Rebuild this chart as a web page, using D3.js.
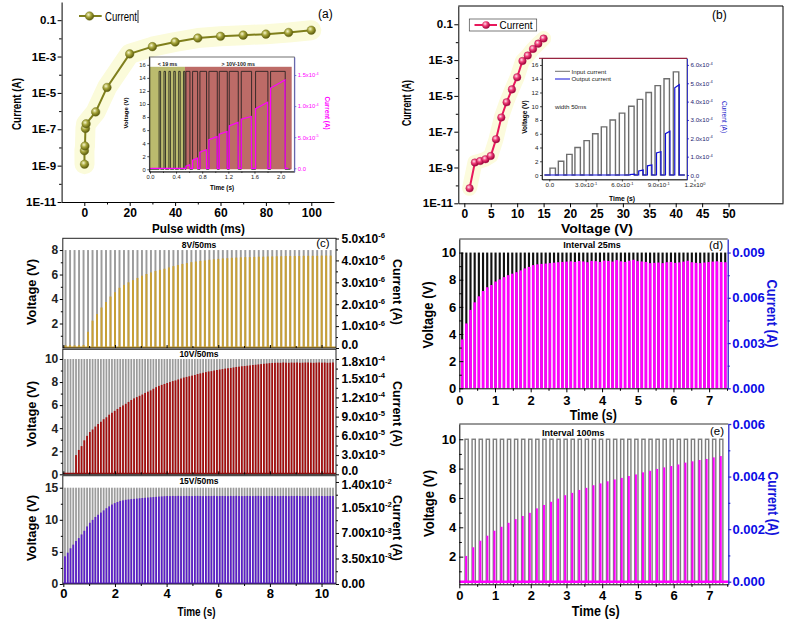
<!DOCTYPE html>
<html><head><meta charset="utf-8">
<script src="https://cdn.jsdelivr.net/npm/d3@7/dist/d3.min.js"></script>
<style>body{margin:0;background:#fff}svg{display:block}</style>
</head><body>
<svg id="chart" width="786" height="626"></svg>
<script>
// ================= DATA =================
// (a) current vs pulse width
const aPulseWidth = [0.1, 0.05, 0.3, 0.5, 0.8, 5, 10, 20, 30, 40, 50, 60, 70, 80, 90, 100];
const aCurrent = [1.2e-9, 6.6e-9, 1.2e-8, 1.1e-7, 2.0e-7, 9.0e-7, 2.0e-5, 1.4e-3, 3.5e-3, 6.3e-3, 1.04e-2, 1.3e-2, 1.5e-2, 1.7e-2, 2.1e-2, 2.8e-2];
const logTicks = [1e-11, 1e-9, 1e-7, 1e-5, 1e-3, 1e-1];
const logTickLabels = ['1E-11', '1E-9', '1E-7', '1E-5', '1E-3', '0.1'];
const logMinor = [1e-10, 1e-8, 1e-6, 1e-4, 1e-2];
const aXTicks = [0, 20, 40, 60, 80, 100];
const aXMinor = [10, 30, 50, 70, 90];
// (a) inset
const aInsetRegionStart = [0, 0.536];
const aInsetRegionEnd = [0.536, 2.17];
const aInsetRegionTop = 15.7;
const aInsetRegionLabels = ['< 19 ms', '> 10V-100 ms'];
const aPulseVoltage = 15;
const aFastPulseStart = [0.14, 0.215, 0.29, 0.365, 0.44, 0.515];
const aFastPulseEnd = [0.163, 0.238, 0.313, 0.388, 0.463, 0.535];
const aSlowPulseStart = [0.551, 0.653, 0.765, 0.903, 1.061, 1.214, 1.398, 1.617, 1.847];
const aSlowPulseEnd = [0.612, 0.730, 0.867, 1.031, 1.184, 1.352, 1.556, 1.806, 2.071];
const aInsetCurrentStart = [0.35e-5, 1.3e-5, 2.6e-5, 4.6e-5, 5.5e-5, 6.8e-5, 7.9e-5, 9.6e-5, 1.29e-4];
const aInsetCurrentEnd = [0.57e-5, 1.62e-5, 2.98e-5, 5.08e-5, 5.92e-5, 7.38e-5, 8.33e-5, 1.064e-4, 1.42e-4];
const aInsetVTicks = [0, 2, 4, 6, 8, 10, 12, 14, 16];
const aInsetTTicks = [0, 0.4, 0.8, 1.2, 1.6, 2.0];
const aInsetTMinor = [0.2, 0.6, 1.0, 1.4, 1.8];
const aInsetITicks = [0, 5e-5, 1e-4, 1.5e-4];
const aInsetILabels = ['0.0', '5.0x10^-5', '1.0x10^-4', '1.5x10^-4'];

// (b) current vs voltage
const bVoltage = [1, 2, 3, 4, 5, 6, 7, 8, 9, 10, 11, 12, 13, 14, 15];
const bCurrent = [6.9e-11, 1.9e-9, 2.3e-9, 2.9e-9, 4.4e-9, 3.8e-8, 6.2e-7, 4.4e-6, 2.3e-5, 1.1e-4, 8.9e-4, 1.8e-3, 4.2e-3, 8.3e-3, 1.6e-2];
const bXTicks = [0, 5, 10, 15, 20, 25, 30, 35, 40, 45, 50];
// (b) inset
const bPulseStart = [0.006, 0.075, 0.144, 0.212, 0.287, 0.358, 0.43, 0.502, 0.579, 0.656, 0.727, 0.799, 0.874, 0.948, 1.025];
const bPulseWidth = 0.045;
const bInputVoltage = [1, 2, 3, 4, 5, 6, 7, 8, 9, 10, 11, 12, 13, 14, 15];
const bOutputStart = [0, 0, 0, 0, 0, 0, 0, 0, 0, 0.03e-4, 0.22e-4, 0.5e-4, 1.2e-4, 2.25e-4, 4.75e-4];
const bOutputEnd = [0, 0, 0, 0, 0, 0, 0, 0, 0, 0.05e-4, 0.27e-4, 0.55e-4, 1.27e-4, 2.38e-4, 4.92e-4];
const bInsetVTicks = [0, 2, 4, 6, 8, 10, 12, 14, 16];
const bInsetTTicks = [0, 0.3, 0.6, 0.9, 1.2];
const bInsetTLabels = ['0.0', '3.0x10^-1', '6.0x10^-1', '9.0x10^-1', '1.2x10^0'];
const bInsetITicks = [0, 1e-4, 2e-4, 3e-4, 4e-4, 5e-4, 6e-4];
const bInsetILabels = ['0.0', '1.0x10^-4', '2.0x10^-4', '3.0x10^-4', '4.0x10^-4', '5.0x10^-4', '6.0x10^-4'];

// (c) pulse trains
const cLabels = ['8V/50ms', '10V/50ms', '15V/50ms'];
const cVoltage = [8, 10, 15];
const cPulseStart0 = [0.05, 0.03, 0.03];
const cPulsePeriod = [0.174, 0.107, 0.107];
const cCurrent8V = [ // x1e-6 A
  0.12,0.13,0.12,0.13,0.14, 0.74,1.25,1.55,1.85,2.1, 2.35,2.55,2.75,2.88,3.0, 3.1,3.2,3.3,3.38,3.45,
  3.52,3.57,3.62,3.68,3.74, 3.79,3.84,3.88,3.92,3.95, 3.98,4.0,4.03,4.05,4.07, 4.09,4.1,4.12,4.13,4.14,
  4.15,4.15,4.16,4.17,4.17, 4.18,4.18,4.19,4.19,4.2, 4.2,4.2,4.2,4.21,4.21, 4.21,4.21,4.22,4.22,4.22];
const cCurrent10V = [ // x1e-4 A
  0.005,0.005,0.005,0.005,
  0.30,0.38,0.44,0.53,0.60, 0.66,0.70,0.745,0.785,0.82, 0.86,0.89,0.93,0.96,0.99, 1.02,1.05,1.075,1.10,1.13,
  1.16,1.185,1.205,1.225,1.245, 1.27,1.29,1.31,1.335,1.36, 1.38,1.395,1.41,1.425,1.44, 1.455,1.465,1.48,1.495,1.51,
  1.52,1.53,1.54,1.55,1.565, 1.575,1.585,1.595,1.605,1.61, 1.62,1.628,1.635,1.642,1.65, 1.655,1.66,1.668,1.675,1.68,
  1.686,1.69,1.695,1.70,1.706, 1.71,1.715,1.72,1.725,1.73, 1.735,1.738,1.74,
  1.742,1.74,1.745,1.742,1.74,1.744,1.742,1.745,1.74,1.742,1.744,1.745,1.742,1.74,1.743,1.745,1.742,1.744,1.74,1.742,1.745];
const cCurrent15V = [ // x1e-2 A
  0.38,0.43,0.49,0.54,0.59, 0.63,0.68,0.73,0.79,0.84, 0.88,0.92,0.95,0.98,1.01, 1.04,1.065,1.09,1.11,1.125,
  1.14,1.148,1.155,1.16,1.165, 1.168,1.172,1.176,1.18,1.183, 1.186,1.19,1.193,1.196,1.2, 1.202,1.205,
  1.207,1.206,1.208,1.207,1.209,1.206,1.207,1.208,1.207,1.206,1.208,1.209,1.207,1.206,1.207,1.208,1.207,1.209,1.206,1.207,
  1.208,1.207,1.206,1.208,1.207,1.209,1.207,1.206,1.207,1.208,1.207,1.206,1.208,1.209,1.207,1.206,1.207,1.208,1.207,1.209,
  1.206,1.207,1.208,1.207,1.206,1.208,1.207,1.209,1.207,1.206,1.207,1.208,1.207,1.206,1.208,1.209,1.207,1.206,1.207,1.208,1.207];
const cVTicks = [[2,4,6,8],[0,2,4,6,8,10],[0,5,10,15]];
const cVMinor = [[1,3,5,7],[1,3,5,7,9],[2.5,7.5,12.5]];
const cITicks = [[0,1e-6,2e-6,3e-6,4e-6,5e-6],[0,3e-5,6e-5,9e-5,1.2e-4,1.5e-4,1.8e-4],[0,3.5e-3,7e-3,1.05e-2,1.4e-2]];
const cILabels = [['0.0','1.0x10^-6','2.0x10^-6','3.0x10^-6','4.0x10^-6','5.0x10^-6'],
  ['0.0','3.0x10^-5','6.0x10^-5','9.0x10^-5','1.2x10^-4','1.5x10^-4','1.8x10^-4'],
  ['0.00','3.50x10^-3','7.00x10^-3','1.05x10^-2','1.40x10^-2']];
const cIMinor = [[0.5e-6,1.5e-6,2.5e-6,3.5e-6,4.5e-6],[1.5e-5,4.5e-5,7.5e-5,1.05e-4,1.35e-4,1.65e-4],[1.75e-3,5.25e-3,8.75e-3,1.225e-2]];
const cTTicks = [0, 2, 4, 6, 8, 10];
const cTMinor = [1, 3, 5, 7, 9];

// (d) interval 25 ms
const dLabel = 'Interval 25ms';
const dVoltage = 10;
const dPulseStart0 = 0.05, dPulsePeriod = 0.117;
const dCurrent = [ // x1e-3 A
  3.24,4.3,5.2,5.7,6.1,6.45,6.7,6.85,7.08,7.22,7.37,7.5,7.6,7.7,7.82,7.95,8.05,8.17,8.22,8.25,8.27,
  8.30,8.33,8.36,8.38,8.40,8.42,8.38,8.44,8.41,8.36, 8.45,8.43,8.38,8.47,8.44,8.40,8.50,8.42,8.38,8.46,
  8.52,8.43,8.41,8.38,8.30,8.32,8.34,8.30,8.36,8.38, 8.32,8.35,8.40,8.46,8.36,8.32,8.30,8.34,8.37,8.40, 8.42,8.38,8.36];
const dVTicks = [0, 2, 4, 6, 8, 10];
const dVMinor = [1, 3, 5, 7, 9];
const dITicks = [0, 0.003, 0.006, 0.009];
const dILabels = ['0.000', '0.003', '0.006', '0.009'];
const dIMinor = [0.0015, 0.0045, 0.0075];
// (e) interval 100 ms
const eLabel = 'Interval 100ms';
const eVoltage = 10;
const ePulseStart0 = 0.16, ePulsePeriod = 0.198;
const eCurrent = [ // x1e-3 A
  0.98,1.31,1.56,1.75,1.94,2.09,2.24,2.38,2.50,2.62,2.79,2.92,3.04,3.16,3.29,3.38,3.49,3.57,3.67,3.74,
  3.82,3.89,3.95,4.02,4.08,4.16,4.22,4.29,4.35,4.40,4.46,4.53,4.58,4.63,4.67,4.73,4.78];
const eVTicks = [2, 4, 6, 8, 10];
const eVMinor = [1, 3, 5, 7, 9];
const eITicks = [0, 0.002, 0.004, 0.006];
const eILabels = ['0.000', '0.002', '0.004', '0.006'];
const eIMinor = [0.001, 0.003, 0.005];
const deTTicks = [0, 1, 2, 3, 4, 5, 6, 7];
const deTMinor = [0.5, 1.5, 2.5, 3.5, 4.5, 5.5, 6.5, 7.5];

// ================= HELPERS =================
const FONT = '"Liberation Sans", Arial, Helvetica, sans-serif';
const svg = d3.select('#chart');
const defs = svg.append('defs');
function grad(id, c0, c1, c2) {
  const g = defs.append('radialGradient').attr('id', id).attr('cx', '38%').attr('cy', '35%').attr('r', '65%');
  g.append('stop').attr('offset', '0%').attr('stop-color', c0);
  g.append('stop').attr('offset', '45%').attr('stop-color', c1);
  g.append('stop').attr('offset', '100%').attr('stop-color', c2);
}
grad('gOlive', '#f7f7cf', '#a6a53a', '#5a5a0c');
grad('gPink', '#ffe3ec', '#ee3c76', '#9a0038');
let clipN = 0;
function clipRect(x, y, w, h) {
  const id = 'clip' + (clipN++);
  defs.append('clipPath').attr('id', id).append('rect').attr('x', x).attr('y', y).attr('width', w).attr('height', h);
  return `url(#${id})`;
}
function txt(parent, s, x, y, o = {}) {
  const t = parent.append('text').attr('x', x).attr('y', y).attr('font-family', FONT)
    .attr('font-size', o.fs || 12).attr('font-weight', o.bold ? 'bold' : 'normal')
    .attr('fill', o.color || '#000').attr('text-anchor', o.anchor || 'middle').text(s);
  if (o.dy) t.attr('dy', o.dy);
  if (o.rot) t.attr('transform', `rotate(${o.rot},${x},${y})`);
  if (o.len) t.attr('textLength', o.len).attr('lengthAdjust', 'spacingAndGlyphs');
  return t;
}
function addAxis(parent, orient, scale, o) {
  const mk = orient === 'left' ? d3.axisLeft : orient === 'right' ? d3.axisRight : d3.axisBottom;
  const g = parent.append('g').attr('transform', `translate(${o.x || 0},${o.y || 0})`);
  const col = o.lineColor || '#000';
  const sw = o.sw ?? 1;
  if (o.minor) {
    const gm = g.append('g').call(mk(scale).tickValues(o.minor).tickSize(o.minorLen ?? 2).tickFormat(() => '').tickSizeOuter(0));
    gm.select('.domain').remove();
    gm.selectAll('line').attr('stroke', col).attr('stroke-width', sw);
  }
  const vals = o.values;
  const a = mk(scale).tickValues(vals).tickSize(o.len ?? 4).tickPadding(o.pad ?? 2).tickSizeOuter(0)
    .tickFormat(o.noLabels ? () => '' : o.labels ? (d => o.labels[vals.indexOf(d)]) : (o.fmt || (d => d)));
  const ga = g.append('g').call(a);
  ga.attr('font-family', null).attr('font-size', null);
  if (o.noDomain) ga.select('.domain').remove();
  else ga.select('.domain').attr('stroke', col).attr('stroke-width', sw);
  ga.selectAll('.tick line').attr('stroke', col).attr('stroke-width', sw);
  const fs = o.fs || 12;
  ga.selectAll('.tick text').attr('font-family', FONT).attr('font-size', fs)
    .attr('font-weight', o.bold === false ? 'normal' : 'bold').attr('fill', o.color || '#000')
    .each(function (d) {
      const t = d3.select(this), s = t.text();
      if (o.nudge && o.nudge[vals.indexOf(d)]) t.attr('transform', `translate(0,${o.nudge[vals.indexOf(d)]})`);
      if (s.includes('^')) {
        const [m, e] = s.split('^');
        t.text(null);
        t.append('tspan').text(m);
        t.append('tspan').attr('dy', -fs * 0.4).attr('font-size', fs * 0.64).text(e);
      }
    });
  return g;
}
const line = d3.line();

// ================= PANEL (a) =================
const gA = svg.append('g');
const aX = d3.scaleLinear().domain([-10, 110]).range([61.6, 334]);
const aY = d3.scaleLog().domain([1e-11, 1]).range([202, 2]);
const aPts = aPulseWidth.map((w, i) => [aX(w), aY(aCurrent[i])]);
gA.append('path').attr('d', line(aPts)).attr('fill', 'none').attr('stroke', '#fbfbda').attr('stroke-width', 20)
  .attr('stroke-linejoin', 'round').attr('stroke-linecap', 'round');
gA.append('path').attr('d', line(aPts)).attr('fill', 'none').attr('stroke', '#7f7f1c').attr('stroke-width', 2);
gA.selectAll('circle.m').data(aPts).join('circle').attr('class', 'm').attr('cx', d => d[0]).attr('cy', d => d[1])
  .attr('r', 4.3).attr('fill', 'url(#gOlive)').attr('stroke', '#6b6b14').attr('stroke-width', 0.4);
// legend
gA.append('line').attr('x1', 79).attr('x2', 101.7).attr('y1', 16).attr('y2', 16).attr('stroke', '#7f7f1c').attr('stroke-width', 2);
gA.append('circle').attr('cx', 89.5).attr('cy', 16).attr('r', 4.3).attr('fill', 'url(#gOlive)').attr('stroke', '#6b6b14').attr('stroke-width', 0.4);
txt(gA, 'Current', 105, 20.5, {fs: 12, anchor: 'start', len: 32});
gA.append('line').attr('x1', 138).attr('x2', 138).attr('y1', 10).attr('y2', 23).attr('stroke', '#000').attr('stroke-width', 0.8);
txt(gA, '(a)', 318, 17.5, {fs: 12, anchor: 'start'});

// inset (a)
const iaL = 149.3, iaR = 294.3, iaT = 57, iaB = 171.7;
const iaX = d3.scaleLinear().domain([-0.01, 2.21]).range([iaL, iaR]);
const iaY = d3.scaleLinear().domain([-0.37, 17.2]).range([iaB, iaT]);
const iaYR = d3.scaleLinear().domain([-0.055e-4, 1.79e-4]).range([iaB, iaT]);
const gIA = svg.append('g');
gIA.append('rect').attr('x', iaL).attr('y', iaT).attr('width', iaR - iaL).attr('height', iaB - iaT).attr('fill', '#fff');
const regionColors = ['#bbbb6e', '#bd6b67'];
aInsetRegionStart.forEach((s, i) => {
  gIA.append('rect').attr('x', iaX(s)).attr('y', iaY(aInsetRegionTop)).attr('width', iaX(aInsetRegionEnd[i]) - iaX(s))
    .attr('height', iaY(0) - iaY(aInsetRegionTop)).attr('fill', regionColors[i]);
  txt(gIA, aInsetRegionLabels[i], (iaX(s) + iaX(aInsetRegionEnd[i])) / 2, 65.8, {fs: 5.3, bold: true, color: '#222'});
});
// voltage trace
let vp = `M${iaX(0)},${iaY(0)}`;
const allStart = aFastPulseStart.concat(aSlowPulseStart), allEnd = aFastPulseEnd.concat(aSlowPulseEnd);
allStart.forEach((s, i) => { vp += `H${iaX(s)}V${iaY(aPulseVoltage)}H${iaX(allEnd[i])}V${iaY(0)}`; });
vp += `H${iaX(2.15)}`;
gIA.append('path').attr('d', vp).attr('fill', 'none').attr('stroke', '#1a1a1a').attr('stroke-width', 0.8);
// current trace
let cp = `M${iaX(0)},${iaYR(0)}`;
aSlowPulseStart.forEach((s, i) => {
  cp += `H${iaX(s)}V${iaYR(aInsetCurrentStart[i])}L${iaX(aSlowPulseEnd[i] - 0.004)},${iaYR(aInsetCurrentEnd[i])}L${iaX(aSlowPulseEnd[i])},${iaYR(0)}`;
});
cp += `H${iaX(2.12)}`;
gIA.append('path').attr('d', cp).attr('fill', 'none').attr('stroke', '#ff00ff').attr('stroke-width', 1.2);
gIA.append('rect').attr('x', iaL).attr('y', iaT).attr('width', iaR - iaL).attr('height', iaB - iaT).attr('fill', 'none').attr('stroke', '#333').attr('stroke-width', 0.7);
addAxis(gIA, 'left', iaY, {x: iaL, values: aInsetVTicks, len: 2, pad: 1.5, fs: 5.8, bold: false, color: '#222', sw: 0.7});
addAxis(gIA, 'bottom', iaX, {y: iaB, values: aInsetTTicks, fmt: d3.format('.1f'), minor: aInsetTMinor, len: 2, minorLen: 1.2, pad: 1.5, fs: 5.8, bold: false, color: '#222', sw: 0.7});
addAxis(gIA, 'right', iaYR, {x: iaR, values: aInsetITicks, labels: aInsetILabels, len: 2, pad: 1.5, fs: 5.8, bold: false, color: '#ff00ff', lineColor: '#5a5ad0', sw: 0.8});
txt(gIA, 'Voltage (V)', 126, 113, {fs: 6, bold: true, rot: -90, dy: '0.35em'});
txt(gIA, 'Time (s)', 222, 190, {fs: 6.3, bold: true});
txt(gIA, 'Current (A)', 327, 113, {fs: 6.3, bold: true, rot: 90, dy: '0.35em', color: '#ff00ff'});

// axes (a)
addAxis(gA, 'left', aY, {x: 61.6, values: logTicks, labels: logTickLabels, minor: logMinor, len: 4, minorLen: 2.5, pad: 1.5, fs: 11.5});
addAxis(gA, 'bottom', aX, {y: 202, values: aXTicks, minor: aXMinor, len: 4, minorLen: 2.5, pad: 2.5, fs: 12});
txt(gA, 'Current (A)', 16, 104, {fs: 13, bold: true, rot: -90, dy: '0.35em', len: 52});
txt(gA, 'Pulse width (ms)', 198.5, 232.5, {fs: 13, bold: true, len: 93});

// ================= PANEL (b) =================
const gB = svg.append('g');
const bX = d3.scaleLinear().domain([-1.14, 60.3]).range([458.3, 783]);
const bY = d3.scaleLog().domain([1e-11, 1.05]).range([203.3, 6]);
const bPts = bVoltage.map((v, i) => [bX(v), bY(bCurrent[i])]);
gB.append('path').attr('d', line(bPts)).attr('fill', 'none').attr('stroke', '#fcfbdd').attr('stroke-width', 15)
  .attr('stroke-linejoin', 'round').attr('stroke-linecap', 'round');
gB.append('path').attr('d', line(bPts)).attr('fill', 'none').attr('stroke', '#e8185c').attr('stroke-width', 2);
gB.selectAll('circle.m').data(bPts).join('circle').attr('class', 'm').attr('cx', d => d[0]).attr('cy', d => d[1])
  .attr('r', 3.8).attr('fill', 'url(#gPink)').attr('stroke', '#b0104a').attr('stroke-width', 0.4);
// legend
gB.append('rect').attr('x', 469.3).attr('y', 19).attr('width', 67.4).attr('height', 12).attr('fill', '#fff').attr('stroke', '#444').attr('stroke-width', 0.7);
gB.append('line').attr('x1', 474.5).attr('x2', 497).attr('y1', 25).attr('y2', 25).attr('stroke', '#e8185c').attr('stroke-width', 2);
gB.append('circle').attr('cx', 486).attr('cy', 25).attr('r', 3.8).attr('fill', 'url(#gPink)');
txt(gB, 'Current', 499.5, 29, {fs: 11.5, anchor: 'start', len: 33});
txt(gB, '(b)', 712, 19, {fs: 12, anchor: 'start'});

// inset (b)
const ibL = 542, ibR = 687, ibT = 58.3, ibB = 179.5;
const ibX = d3.scaleLinear().domain([-0.06, 1.138]).range([ibL, ibR]);
const ibY = d3.scaleLinear().domain([-0.65, 16.97]).range([ibB, ibT]);
const ibYR = d3.scaleLinear().domain([-0.244e-4, 6.36e-4]).range([ibB, ibT]);
const gIB = svg.append('g');
gIB.append('rect').attr('x', ibL).attr('y', ibT).attr('width', ibR - ibL).attr('height', ibB - ibT).attr('fill', '#fff');
let ip = `M${ibX(-0.04)},${ibY(0)}`;
bPulseStart.forEach((s, i) => { ip += `H${ibX(s)}V${ibY(bInputVoltage[i])}H${ibX(s + bPulseWidth)}V${ibY(0)}`; });
ip += `H${ibX(1.12)}`;
gIB.append('path').attr('d', ip).attr('fill', 'none').attr('stroke', '#6e6e6e').attr('stroke-width', 1.4);
let op = `M${ibX(-0.04)},${ibYR(0)}`;
bPulseStart.forEach((s, i) => {
  if (bOutputEnd[i] > 0) op += `H${ibX(s + 0.012)}V${ibYR(bOutputStart[i])}L${ibX(s + bPulseWidth + 0.004)},${ibYR(bOutputEnd[i])}V${ibYR(0)}`;
});
op += `H${ibX(1.12)}`;
gIB.append('path').attr('d', op).attr('fill', 'none').attr('stroke', '#1010d8').attr('stroke-width', 1.2);
gIB.append('rect').attr('x', ibL).attr('y', ibT).attr('width', ibR - ibL).attr('height', ibB - ibT).attr('fill', 'none').attr('stroke', '#333').attr('stroke-width', 0.7);
gIB.append('line').attr('x1', 539).attr('x2', ibR).attr('y1', ibT).attr('y2', ibT).attr('stroke', '#a01032').attr('stroke-width', 1);
addAxis(gIB, 'left', ibY, {x: ibL, values: bInsetVTicks, len: 2, pad: 1.5, fs: 6.2, bold: false, color: '#222', sw: 0.7});
addAxis(gIB, 'bottom', ibX, {y: ibB, values: bInsetTTicks, labels: bInsetTLabels, len: 2, pad: 1.5, fs: 6.2, bold: false, color: '#222', sw: 0.7});
addAxis(gIB, 'right', ibYR, {x: ibR, values: bInsetITicks, labels: bInsetILabels, len: 2, pad: 1.5, fs: 6.2, bold: false, color: '#1a1a70', lineColor: '#1515c8', sw: 0.8});
gIB.append('line').attr('x1', 555).attr('x2', 570).attr('y1', 71.3).attr('y2', 71.3).attr('stroke', '#6e6e6e').attr('stroke-width', 1);
gIB.append('line').attr('x1', 555).attr('x2', 570).attr('y1', 79).attr('y2', 79).attr('stroke', '#1010d8').attr('stroke-width', 1);
txt(gIB, 'Input current', 571.5, 73.5, {fs: 6.2, anchor: 'start', color: '#222'});
txt(gIB, 'Output current', 571.5, 81.2, {fs: 6.2, anchor: 'start', color: '#222'});
txt(gIB, 'width 50ms', 555, 109, {fs: 6.2, anchor: 'start', color: '#222'});
txt(gIB, 'Voltage (V)', 525, 117, {fs: 6.5, bold: true, rot: -90, dy: '0.35em'});
txt(gIB, 'Time (s)', 622, 200.5, {fs: 6.8, bold: true});
txt(gIB, 'Current (A)', 724, 117, {fs: 6.5, rot: 90, dy: '0.35em', color: '#1515c8'});

addAxis(gB, 'left', bY, {x: 458.3, values: logTicks, labels: logTickLabels, minor: logMinor, len: 4, minorLen: 2.5, pad: 1.5, fs: 11.5});
addAxis(gB, 'bottom', bX, {y: 203.3, values: bXTicks, len: 4, pad: 2, fs: 12});
gB.append('line').attr('x1', 458.3).attr('x2', 783).attr('y1', 6).attr('y2', 6).attr('stroke', '#000');
gB.append('line').attr('x1', 783).attr('x2', 783).attr('y1', 6).attr('y2', 203.3).attr('stroke', '#000');
txt(gB, 'Current (A)', 406, 103, {fs: 13, bold: true, rot: -90, dy: '0.35em', len: 46});
txt(gB, 'Voltage (V)', 597, 233, {fs: 13, bold: true, len: 72});

// ================= PANEL (c) =================
const gC = svg.append('g');
const cX = d3.scaleLinear().domain([-0.02, 10.56]).range([62.8, 336]);
const cSubs = [
  {top: 238.3, bot: 348, vTop: 8.96, iTop: 5.01e-6, cur: cCurrent8V, unit: 1e-6, color: '#c9a033', w: 0.075, labelY: 248, titleY: 292},
  {top: 349.3, bot: 474.3, vTop: 10.84, iTop: 1.951e-4, cur: cCurrent10V, unit: 1e-4, color: '#a30d0d', w: 0.068, labelY: 357, titleY: 414},
  {top: 475.7, bot: 584, vTop: 16.87, iTop: 1.486e-2, cur: cCurrent15V, unit: 1e-2, color: '#5a1ec8', w: 0.068, labelY: 483.8, titleY: 528}
];
cSubs.forEach((s, k) => {
  const yV = d3.scaleLinear().domain([0, s.vTop]).range([s.bot, s.top]);
  const yI = d3.scaleLinear().domain([0, s.iTop]).range([s.bot, s.top]);
  const g = gC.append('g').attr('clip-path', clipRect(62.8, s.top, 336 - 62.8, s.bot - s.top));
  const times = s.cur.map((_, i) => cPulseStart0[k] + i * cPulsePeriod[k]);
  g.selectAll('rect.v').data(times).join('rect').attr('class', 'v')
    .attr('x', t => cX(t)).attr('width', cX(s.w) - cX(0)).attr('y', yV(cVoltage[k])).attr('height', yV(0) - yV(cVoltage[k]))
    .attr('fill', '#9c9c9c');
  g.selectAll('rect.i').data(s.cur).join('rect').attr('class', 'i')
    .attr('x', (d, i) => cX(times[i])).attr('width', cX(s.w) - cX(0)).attr('y', d => yI(d * s.unit)).attr('height', d => yI(0) - yI(d * s.unit))
    .attr('fill', s.color);
  g.append('line').attr('x1', 62.8).attr('x2', 336).attr('y1', yI(0) - 0.8).attr('y2', yI(0) - 0.8).attr('stroke', s.color).attr('stroke-width', 1.6);
  gC.append('rect').attr('x', 62.8).attr('y', s.top).attr('width', 336 - 62.8).attr('height', s.bot - s.top).attr('fill', 'none').attr('stroke', '#222').attr('stroke-width', 1);
  const nudge = cITicks[k].map((v, i) => (i === 0 && k < 2 ? -3.5 : (i === cITicks[k].length - 1 && k > 0 ? 2.5 : 0)));
  addAxis(gC, 'left', yV, {x: 62.8, values: cVTicks[k], minor: cVMinor[k], len: 3, minorLen: 2, pad: 1.5, fs: 12, color: '#222', noDomain: true});
  addAxis(gC, 'right', yI, {x: 336, values: cITicks[k], labels: cILabels[k], minor: cIMinor[k], len: 3, minorLen: 2, pad: 2.5, fs: 12, noDomain: true, nudge});
  addAxis(gC, 'bottom', cX, {y: s.bot, values: cTTicks, minor: cTMinor, len: k === 2 ? 3 : -3, minorLen: k === 2 ? 2 : -2, pad: 1.5, fs: 13, noDomain: true, noLabels: k !== 2});
  txt(gC, cLabels[k], 199, s.labelY, {fs: 8.5, bold: true});
  txt(gC, 'Voltage (V)', 31.5, s.titleY, {fs: 13, bold: true, rot: -90, dy: '0.35em', len: 66});
  txt(gC, 'Current (A)', 398, s.titleY, {fs: 13, bold: true, rot: 90, dy: '0.35em', len: 66});
});
txt(gC, '(c)', 323, 246.5, {fs: 11.5});
txt(gC, 'Time (s)', 196.5, 616, {fs: 13.5, bold: true, len: 38});

// ================= PANEL (d) =================
const gD = svg.append('g');
const dL = 459.3, dR = 727.7, dT = 239, dB = 388.3;
const dX = d3.scaleLinear().domain([0, 7.52]).range([dL, dR]);
const dY = d3.scaleLinear().domain([0, 11]).range([dB, dT]);
const dYR = d3.scaleLinear().domain([0, 0.0099]).range([dB, dT]);
const gDd = gD.append('g').attr('clip-path', clipRect(dL, dT, dR - dL, dB - dT));
const dTimes = dCurrent.map((_, i) => dPulseStart0 + i * dPulsePeriod);
gDd.selectAll('rect.v').data(dTimes).join('rect').attr('class', 'v').attr('x', t => dX(t)).attr('width', dX(0.06) - dX(0))
  .attr('y', dY(dVoltage)).attr('height', dY(0) - dY(dVoltage)).attr('fill', '#111');
gDd.selectAll('rect.i').data(dCurrent).join('rect').attr('class', 'i').attr('x', (d, i) => dX(dTimes[i] - 0.006)).attr('width', dX(0.076) - dX(0))
  .attr('y', d => dYR(d * 1e-3)).attr('height', d => dYR(0) - dYR(d * 1e-3)).attr('fill', '#ff00ff');
gD.append('line').attr('x1', dL).attr('x2', dR).attr('y1', dT).attr('y2', dT).attr('stroke', '#333');
addAxis(gD, 'left', dY, {x: dL, values: dVTicks, minor: dVMinor, len: -4, minorLen: -2.5, pad: 3, fs: 13});
addAxis(gD, 'bottom', dX, {y: dB, values: deTTicks, minor: deTMinor, len: 4, minorLen: 2.5, pad: 3, fs: 13});
addAxis(gD, 'right', dYR, {x: dR, values: dITicks, labels: dILabels, minor: dIMinor, len: 3, minorLen: 2, pad: 1.5, fs: 13, color: '#0b0be6', lineColor: '#2a2ad0', sw: 1.3});
txt(gD, dLabel, 592, 248.3, {fs: 9, bold: true});
txt(gD, '(d)', 716, 249, {fs: 11.5});
txt(gD, 'Voltage (V)', 428.3, 315, {fs: 14, bold: true, rot: -90, dy: '0.35em', len: 67});
txt(gD, 'Current (A)', 771.7, 313.5, {fs: 14, bold: true, rot: 90, dy: '0.35em', len: 68, color: '#1414dc'});
txt(gD, 'Time (s)', 593.3, 420, {fs: 14, bold: true, len: 47});

// ================= PANEL (e) =================
const gE = svg.append('g');
const eL = 459.3, eR = 728.3, eT = 424, eB = 584.3;
const eX = d3.scaleLinear().domain([0, 7.53]).range([eL, eR]);
const eY = d3.scaleLinear().domain([0.116, 11.04]).range([eB, eT]);
const eYR = d3.scaleLinear().domain([-0.0000989, 0.006]).range([eB, eT]);
const gEd = gE.append('g').attr('clip-path', clipRect(eL, eT, eR - eL, eB - eT));
const eTimes = eCurrent.map((_, i) => ePulseStart0 + i * ePulsePeriod);
gEd.selectAll('rect.v').data(eTimes).join('rect').attr('class', 'v').attr('x', t => eX(t)).attr('width', eX(0.09) - eX(0))
  .attr('y', eY(eVoltage)).attr('height', eY(0) - eY(eVoltage)).attr('fill', 'none').attr('stroke', '#7d7d7d').attr('stroke-width', 1.4);
gEd.append('line').attr('x1', eL).attr('x2', eR).attr('y1', eYR(0)).attr('y2', eYR(0)).attr('stroke', '#ff00ff').attr('stroke-width', 2.4);
gEd.selectAll('rect.i').data(eCurrent).join('rect').attr('class', 'i').attr('x', (d, i) => eX(eTimes[i] + 0.004)).attr('width', eX(0.055) - eX(0))
  .attr('y', d => eYR(d * 1e-3)).attr('height', d => eYR(0) - eYR(d * 1e-3)).attr('fill', '#ff00ff');
gE.append('line').attr('x1', eL).attr('x2', eR).attr('y1', eT).attr('y2', eT).attr('stroke', '#333');
addAxis(gE, 'left', eY, {x: eL, values: eVTicks, minor: eVMinor, len: -4, minorLen: -2.5, pad: 3, fs: 13});
addAxis(gE, 'bottom', eX, {y: eB, values: deTTicks, minor: deTMinor, len: 4, minorLen: 2.5, pad: 2.5, fs: 13});
addAxis(gE, 'right', eYR, {x: eR, values: eITicks, labels: eILabels, minor: eIMinor, len: 3, minorLen: 2, pad: 1.2, fs: 13, color: '#0b0be6', lineColor: '#2a2ad0', sw: 1.3});
txt(gE, eLabel, 573.3, 436, {fs: 9, bold: true});
txt(gE, '(e)', 717, 434.5, {fs: 11.5});
txt(gE, 'Voltage (V)', 429.3, 503.5, {fs: 14, bold: true, rot: -90, dy: '0.35em', len: 67});
txt(gE, 'Current (A)', 773.3, 503.5, {fs: 14, bold: true, rot: 90, dy: '0.35em', len: 64, color: '#1414dc'});
txt(gE, 'Time (s)', 595.8, 615.5, {fs: 14, bold: true, len: 48});
</script>
</body></html>
